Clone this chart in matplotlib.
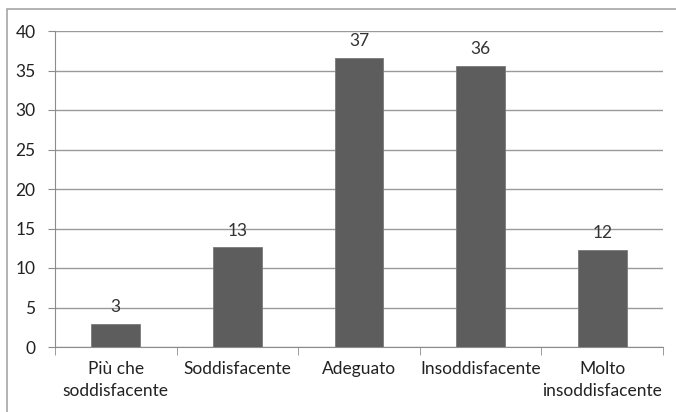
import matplotlib
matplotlib.use("Agg")
import matplotlib.pyplot as plt
from matplotlib.patches import Rectangle

# Giudizi e percentuali
categorie = ["Più che\nsoddisfacente", "Soddisfacente", "Adeguato",
             "Insoddisfacente", "Molto\ninsoddisfacente"]
valori = [2.9, 12.6, 36.6, 35.6, 12.3]
y_ticks = [0, 5, 10, 15, 20, 25, 30, 35, 40]

plt.rcParams["font.family"] = ["Lato", "DejaVu Sans"]

fig = plt.figure(figsize=(6.76, 4.12), dpi=100)
ax = fig.add_axes([55 / 676, 1 - 347 / 412, 608 / 676, 316 / 412])

# cornice esterna del grafico
fig.patches.append(Rectangle((6.5 / 676, -0.1), 1.2, 1 - 9.5 / 412 + 0.1,
                             transform=fig.transFigure, fill=False,
                             edgecolor="#a6a6a6", linewidth=1.2))

x = range(len(categorie))
bars = ax.bar(x, valori, width=0.4, color="#5d5d5d", edgecolor="#7a7a7a",
              linewidth=0.6, zorder=3)
for b, v in zip(bars, valori):
    ax.text(b.get_x() + b.get_width() / 2, v + 1.1, f"{v:.0f}",
            ha="center", va="bottom", fontsize=12.5, color="#333333")

ax.set_xlim(-0.5, len(categorie) - 0.5)
ax.set_ylim(0, 40)
ax.set_yticks(y_ticks)
ax.set_yticklabels([str(t) for t in y_ticks], fontsize=12.5, color="#222222")
ax.set_xticks(x)
ax.set_xticklabels(categorie, fontsize=12.5, color="#222222", linespacing=1.45)
ax.tick_params(axis="x", length=0, pad=10)
ax.tick_params(axis="y", length=5, color="#8c8c8c", pad=9)

# tacche di separazione tra categorie
ax.set_xticks([i - 0.5 for i in range(len(categorie) + 1)], minor=True)
ax.tick_params(axis="x", which="minor", length=6, color="#8c8c8c")

ax.grid(axis="y", color="#9a9a9a", linewidth=1, zorder=0)
for s in ["top", "right"]:
    ax.spines[s].set_visible(False)
ax.spines["left"].set_color("#8c8c8c")
ax.spines["bottom"].set_color("#8c8c8c")

fig.savefig("out.png", dpi=100)
